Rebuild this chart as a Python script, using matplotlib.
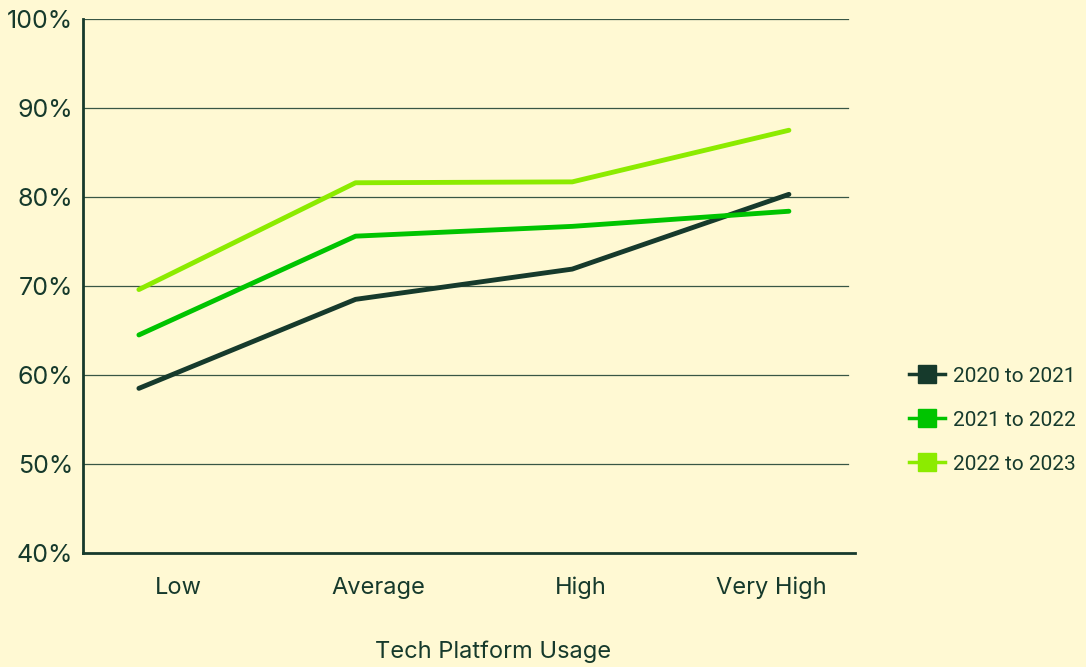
import matplotlib
matplotlib.use("Agg")
import matplotlib.pyplot as plt
from matplotlib.lines import Line2D

categories = ["Low", "Average", "High", "Very High"]
series_names = ["2020 to 2021", "2021 to 2022", "2022 to 2023"]
s2020_2021 = [58.5, 68.5, 71.9, 80.3]
s2021_2022 = [64.5, 75.6, 76.7, 78.4]
s2022_2023 = [69.6, 81.6, 81.7, 87.5]
y_ticks = [40, 50, 60, 70, 80, 90, 100]

BG = "#FFF9D3"
DARK = "#163A2C"
colors = ["#163A2C", "#00C400", "#8CEB00"]

plt.rcParams['font.family'] = ['Inter', 'DejaVu Sans']

fig = plt.figure(figsize=(10.86, 6.67), dpi=100, facecolor=BG)
ax = fig.add_axes([83/1086, 1-553/667, (855-83)/1086, (553-19)/667])
ax.set_facecolor(BG)

x = list(range(len(categories)))
for vals, c, name in zip([s2020_2021, s2021_2022, s2022_2023], colors, series_names):
    ax.plot(x, vals, color=c, lw=3.5, solid_capstyle='round', solid_joinstyle='round', label=name, zorder=3)

ax.set_ylim(40, 100)
ax.set_xlim(-0.258, 3.305)

for t in y_ticks[1:]:
    ax.axhline(t, xmin=0, xmax=0.991, color=DARK, lw=0.9, alpha=0.85, zorder=1)

ax.set_yticks(y_ticks)
ax.set_yticklabels([f"{t}%" for t in y_ticks], fontsize=18, color=DARK)
ax.set_xticks([0.18, 1.107, 2.04, 2.92])
ax.set_xticklabels(categories, fontsize=17, color=DARK)
ax.tick_params(axis='both', length=0)
ax.tick_params(axis='y', pad=7)
ax.tick_params(axis='x', pad=17)

for s in ['top', 'right']:
    ax.spines[s].set_visible(False)
for s in ['left', 'bottom']:
    ax.spines[s].set_color(DARK)
    ax.spines[s].set_linewidth(2)

fig.text(493/1086, 1-652/667, "Tech Platform Usage", fontsize=17, color=DARK,
         ha='center', va='center')

handles = [Line2D([0], [0], color=c, lw=2.5, marker='s', markersize=13,
                  markerfacecolor=c, markeredgecolor=c) for c in colors]
leg = fig.legend(handles, series_names, loc='center left', bbox_to_anchor=(909/1086, 1-420/667),
                 frameon=False, labelcolor=DARK, handlelength=1.75,
                 labelspacing=1.2, handletextpad=0.35, borderaxespad=0, borderpad=0,
                 prop={'family': ['Roboto', 'DejaVu Sans'], 'size': 15})

fig.savefig("out.png", dpi=100, facecolor=BG)
